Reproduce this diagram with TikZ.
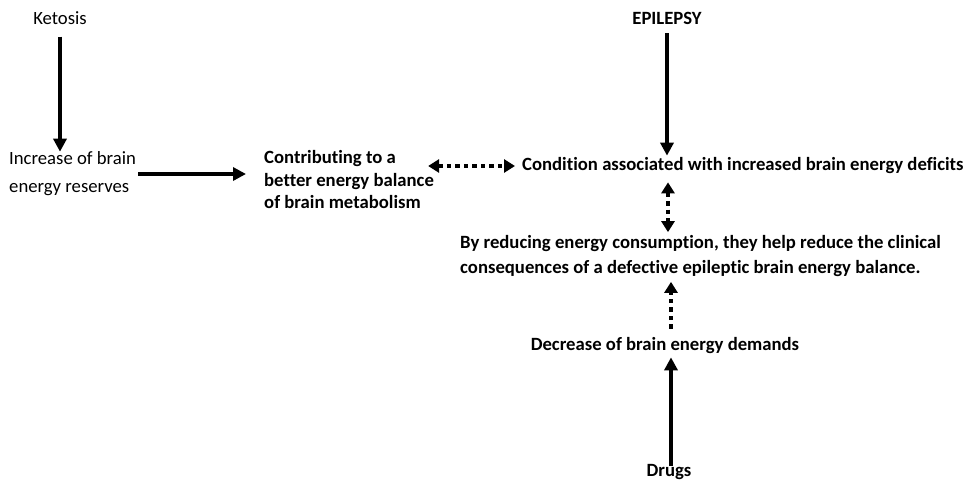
\documentclass[tikz,border=0pt]{standalone}
\usepackage{fontspec}
\setmainfont[Ligatures=NoCommon]{Carlito}
\usetikzlibrary{arrows.meta}
\begin{document}
\begin{tikzpicture}[x=1pt,y=-1pt,
  txt/.style={inner sep=0pt,font=\fontsize{18.7}{28}\selectfont},
  btxt/.style={inner sep=0pt,font=\fontsize{18.7}{22.5}\selectfont\bfseries},
  solidarr/.style={line width=3.8pt,-{Triangle[length=13pt,width=13pt]}},
  dotarr/.style={line width=3.5pt,dash pattern=on 4.5pt off 4pt,{Triangle[length=11pt,width=13pt]}-{Triangle[length=11pt,width=13pt]}},
  dotup/.style={line width=3.5pt,dash pattern=on 4.5pt off 4pt,-{Triangle[length=11pt,width=13pt]}}]
\useasboundingbox[fill=white] (0,0) rectangle (964,482);
\node[txt] (ketosis) at (60,18) {Ketosis};
\node[txt,anchor=west,align=left] (incr) at (9,174) {Increase of brain\\energy reserves};
\node[btxt,anchor=west,align=left] (contrib) at (264,180) {Contributing to a\\better energy balance\\of brain metabolism};
\node[btxt,anchor=west] (cond) at (522,166) {Condition associated with increased brain energy deficits};
\node[btxt] (epi) at (667,18) {EPILEPSY};
\node[btxt,anchor=west,align=left,font=\fontsize{18.7}{25}\selectfont\bfseries] (reduce) at (460,256) {By reducing energy consumption, they help reduce the clinical\\consequences of a defective epileptic brain energy balance.};
\node[btxt] (decr) at (665,346) {Decrease of brain energy demands};
\node[btxt] (drugs) at (669,472) {Drugs};
\draw[solidarr] (ketosis.south) ++(0,12) coordinate (k1) -- (k1 |- incr.north);
\draw[solidarr] ([xshift=2pt]incr.east) -- ([xshift=-18pt]incr.east -| contrib.west);
\draw[dotarr] ([xshift=-6pt]cond.west -| contrib.east) -- ([xshift=-7pt]cond.west);
\draw[solidarr] ([yshift=-9pt]epi.south) -- ([yshift=2pt]epi.south |- cond.north);
\draw[dotarr] ([xshift=1pt,yshift=-8pt]epi.south |- cond.south) -- ([xshift=1pt,yshift=3pt]epi.south |- reduce.north);
\draw[dotup] ([xshift=6pt,yshift=9pt]decr.north) -- ([xshift=6pt,yshift=-5pt]decr.north |- reduce.south);
\draw[solidarr] ([xshift=6pt,yshift=-2pt]decr.south |- drugs.north) -- ([xshift=6pt,yshift=-3pt]decr.south);
\end{tikzpicture}
\end{document}
